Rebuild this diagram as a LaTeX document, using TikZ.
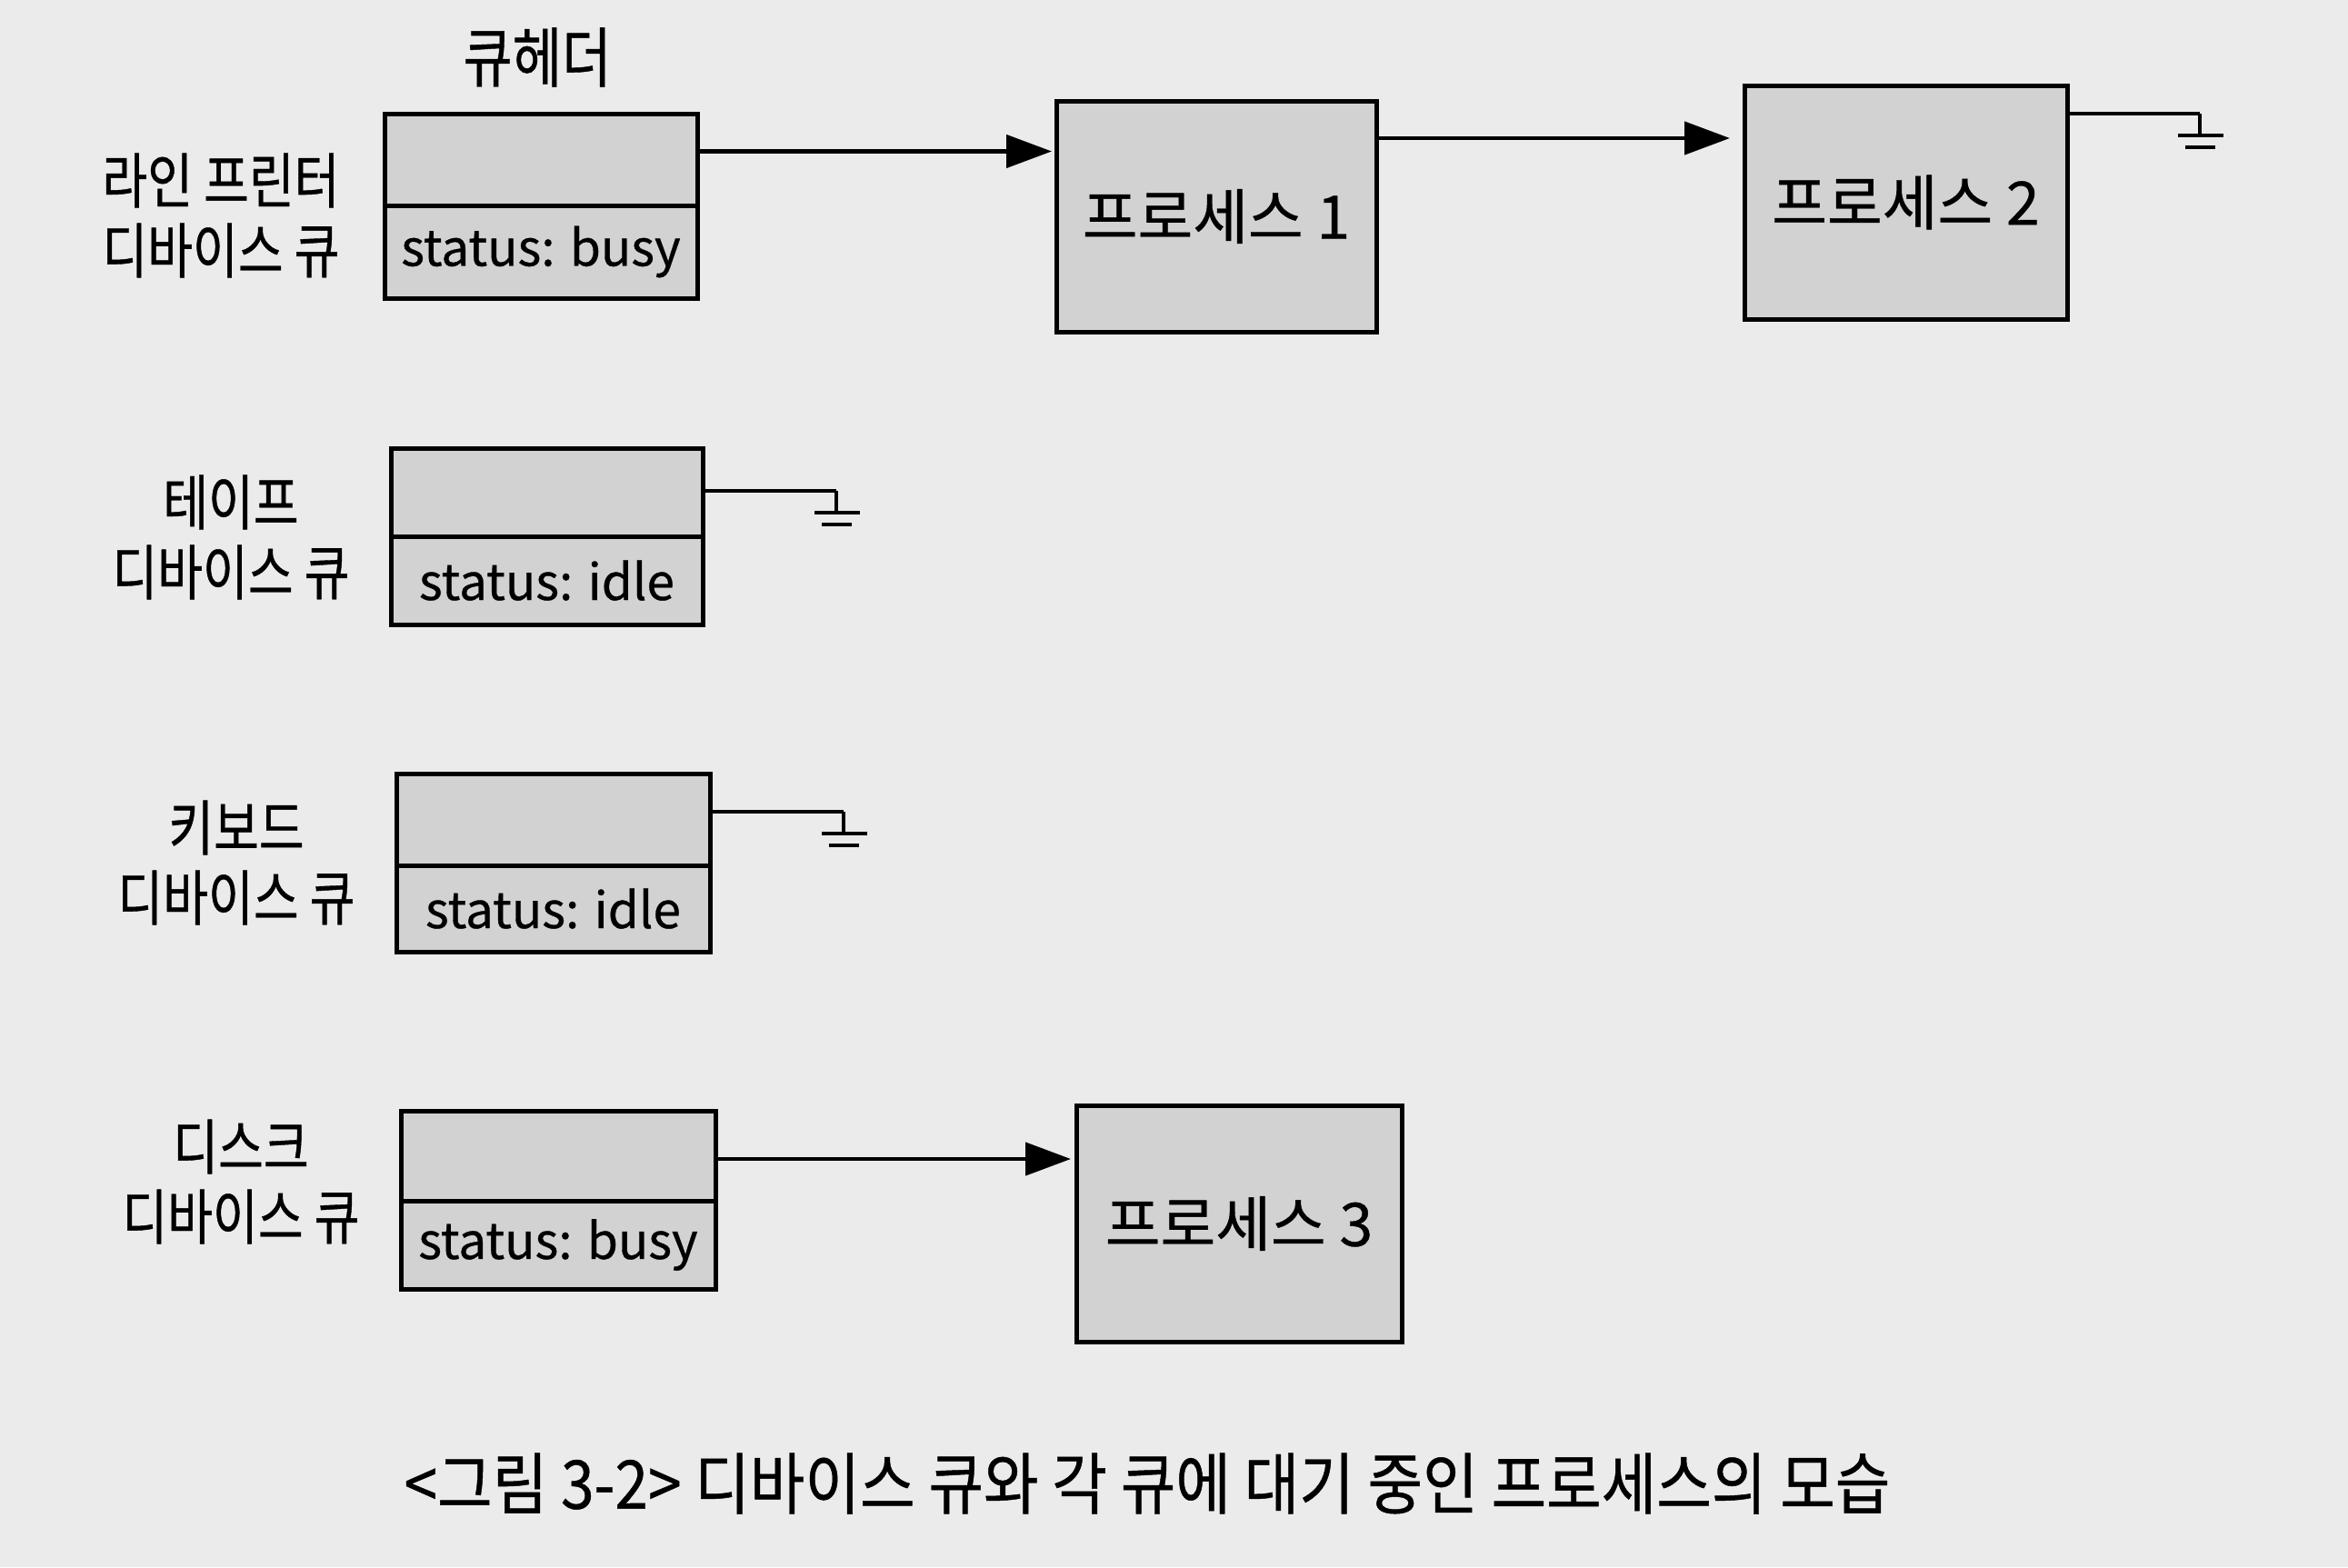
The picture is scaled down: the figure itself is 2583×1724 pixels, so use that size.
\documentclass[tikz,border=0pt]{standalone}
\usepackage{fontspec}
\setmainfont{Noto Sans CJK KR}
\newfontfamily\kr[FakeBold=0.6]{Noto Sans CJK KR}
\newfontfamily\krc[FakeStretch=0.82,FakeBold=0.6]{Noto Sans CJK KR}
\newfontfamily\krcap[FakeStretch=0.89,FakeBold=0.6]{Noto Sans CJK KR}
\usetikzlibrary{arrows.meta}
\definecolor{bg}{RGB}{235,235,235}
\definecolor{boxfill}{RGB}{210,210,210}
\tikzset{
  hbox/.style={draw=black, line width=5pt, fill=boxfill, inner sep=0pt, outer sep=0pt},
  pbox/.style={hbox, font=\kr\fontsize{66}{72}\selectfont},
  stat/.style={font=\kr\fontsize{55}{60}\selectfont},
  lbl/.style={align=center, inner sep=0pt, font=\krc\fontsize{66}{77}\selectfont},
  arr/.style={line width=4.5pt, -{Triangle[length=50pt,width=36pt]}},
  gline/.style={line width=4.5pt},
  gnd/.pic={\draw[line width=4.5pt] (0,0) -- (0,24);
            \draw[line width=4.5pt] (-24,24) -- (26,24);
            \draw[line width=4.5pt] (-16,37) -- (17,37);}
}
\begin{document}
\begin{tikzpicture}[x=1pt,y=-1pt]
\fill[bg] (0,0) rectangle (2583,1724);
\useasboundingbox (0,0) rectangle (2583,1724);

% header label
\node[font=\krc\fontsize{72}{78}\selectfont] (hdr) at (591,63) {큐헤더};

% device queue headers
\node[hbox, minimum width=344pt, minimum height=101pt] (h1a) at (595,175.5) {};
\node[hbox, minimum width=344pt, minimum height=102pt, anchor=north] (h1b) at (h1a.south) {};
\node[stat] (s1) at (h1b.center) {status: busy};

\node[hbox, minimum width=343pt, minimum height=97pt] (h2a) at (601.5,541.5) {};
\node[hbox, minimum width=343pt, minimum height=97pt, anchor=north] (h2b) at (h2a.south) {};
\node[stat] (s2) at (h2b.center) {status: idle};

\node[hbox, minimum width=345pt, minimum height=101pt] (h3a) at (608.5,901.5) {};
\node[hbox, minimum width=345pt, minimum height=95pt, anchor=north] (h3b) at (h3a.south) {};
\node[stat] (s3) at (h3b.center) {status: idle};

\node[hbox, minimum width=346pt, minimum height=99pt] (h4a) at (614,1271.5) {};
\node[hbox, minimum width=346pt, minimum height=97pt, anchor=north] (h4b) at (h4a.south) {};
\node[stat] (s4) at (h4b.center) {status: busy};

% device labels
\node[lbl] (l1) at (243,237) {라인 프린터\\디바이스 큐};
\node[lbl] (l2) at (254,591) {테이프\\디바이스 큐};
\node[lbl] (l3) at (260,949) {키보드\\디바이스 큐};
\node[lbl] (l4) at (265,1300) {디스크\\디바이스 큐};

% processes
\node[pbox, minimum width=352pt, minimum height=254pt] (p1) at (1338,238) {프로세스 1};
\node[pbox, minimum width=355pt, minimum height=257pt] (p2) at (2096.5,222.5) {프로세스 2};
\node[pbox, minimum width=358pt, minimum height=260pt] (p3) at (1363,1346) {프로세스 3};

% arrows
\draw[arr, shorten >=5pt] ([yshift=9pt]h1a.east) -- ([yshift=9pt]h1a.east -| p1.west);
\draw[arr, shorten >=16pt] ([yshift=86pt]p1.east) -- ([yshift=86pt]p1.east -| p2.west);
\draw[arr, shorten >=6pt] ([yshift=-3.5pt]h4a.east) -- ([yshift=-3.5pt]h4a.east -| p3.west);

% null pointers (ground)
\coordinate (g0) at ([xshift=146pt,yshift=97.5pt]p2.east);
\draw[gline] ([yshift=97.5pt]p2.east) -- (g0);
\pic at (g0) {gnd};

\coordinate (g1) at ([xshift=147pt,yshift=1.5pt]h2a.east);
\draw[gline] ([yshift=1.5pt]h2a.east) -- (g1);
\pic at (g1) {gnd};

\coordinate (g2) at ([xshift=147pt,yshift=8.5pt]h3a.east);
\draw[gline] ([yshift=8.5pt]h3a.east) -- (g2);
\pic at (g2) {gnd};

% caption
\node[font=\krcap\fontsize{74}{80}\selectfont] (cap) at (1262,1632) {<그림 3-2> 디바이스 큐와 각 큐에 대기 중인 프로세스의 모습};
\end{tikzpicture}
\end{document}
